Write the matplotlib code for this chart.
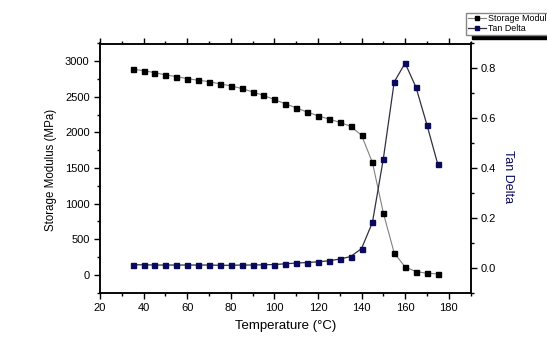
import matplotlib
matplotlib.use("Agg")
import matplotlib.pyplot as plt
from matplotlib.ticker import MultipleLocator

plt.rcParams["font.family"] = ["Liberation Sans", "DejaVu Sans"]

# temperature (°C)
temp = [35, 40, 45, 50, 55, 60, 65, 70, 75, 80, 85, 90, 95, 100, 105,
        110, 115, 120, 125, 130, 135, 140, 145, 150, 155, 160, 165, 170, 175]
# storage modulus (MPa)
storage = [2888, 2869, 2841, 2809, 2785, 2757, 2734, 2715, 2683, 2655, 2618,
           2571, 2520, 2464, 2403, 2347, 2287, 2236, 2189, 2143, 2087, 1961,
           1579, 871, 307, 112, 47, 23, 14]
# tan delta
tan_delta = [0.012, 0.012, 0.011, 0.011, 0.011, 0.011, 0.011, 0.011, 0.010,
             0.010, 0.011, 0.011, 0.012, 0.013, 0.016, 0.019, 0.021, 0.024,
             0.028, 0.035, 0.045, 0.077, 0.182, 0.437, 0.746, 0.821, 0.724,
             0.574, 0.415]

NAVY = "#0a0a5c"
W, H = 547, 353

fig = plt.figure(figsize=(W / 100, H / 100), dpi=100)
# axes box in pixels: left 100, right 470.5, top 43.5, bottom 292.7
ax = fig.add_axes([100 / W, 1 - 292.7 / H, 370.5 / W, 249.2 / H])
ax2 = ax.twinx()

l1, = ax.plot(temp, storage, color="#808080", lw=0.8, marker="s", ms=3.6,
              mfc="black", mec="black", label="Storage Modulus")
l2, = ax2.plot(temp, tan_delta, color="#303040", lw=0.9, marker="s", ms=3.6,
               mfc=NAVY, mec=NAVY, label="Tan Delta")

ax.set_xlim(20, 190)
ax.set_ylim(-250, 3250)
ax2.set_ylim(-0.1, 0.9)

ax.xaxis.set_major_locator(MultipleLocator(20))
ax.xaxis.set_minor_locator(MultipleLocator(10))
ax.yaxis.set_major_locator(MultipleLocator(500))
ax.yaxis.set_minor_locator(MultipleLocator(250))
ax2.set_yticks([0.0, 0.2, 0.4, 0.6, 0.8])
ax2.yaxis.set_minor_locator(MultipleLocator(0.1))

ax.tick_params(axis="both", which="major", labelsize=8, length=4, width=1)
ax.tick_params(axis="both", which="minor", length=2.5, width=1)
ax.tick_params(axis="x", which="both", top=True, direction="out")
ax2.tick_params(axis="y", which="major", labelsize=8, length=4, width=1)
ax2.tick_params(axis="y", which="minor", length=2.5, width=1)
for a in (ax, ax2):
    for s in a.spines.values():
        s.set_linewidth(1.1)

ax.set_xlabel("Temperature (°C)", fontsize=9.5, va="center")
ax.xaxis.set_label_coords(0.502, -0.132)
ax.set_ylabel("Storage Modulus (MPa)", fontsize=8.3, va="center")
ax.yaxis.set_label_coords(-0.133, 0.492)
ax2.set_ylabel("Tan Delta", fontsize=9, color=NAVY, rotation=270, va="center")
ax2.yaxis.set_label_coords(1.100, 0.468)

# legend sits partly past the right edge, as in the reference
fig.legend(handles=[l1, l2], loc="upper left",
           bbox_to_anchor=(466 / W, 1 - 12.7 / H), fontsize=6.4,
           frameon=True, fancybox=False, edgecolor="#888888",
           handlelength=2.0, handletextpad=0.3, borderpad=0.2,
           labelspacing=0.1, borderaxespad=0, markerscale=0.9,
           shadow={"color": "black", "alpha": 1, "ox": 4, "oy": -2.7})

fig.savefig("out.png", dpi=100)
